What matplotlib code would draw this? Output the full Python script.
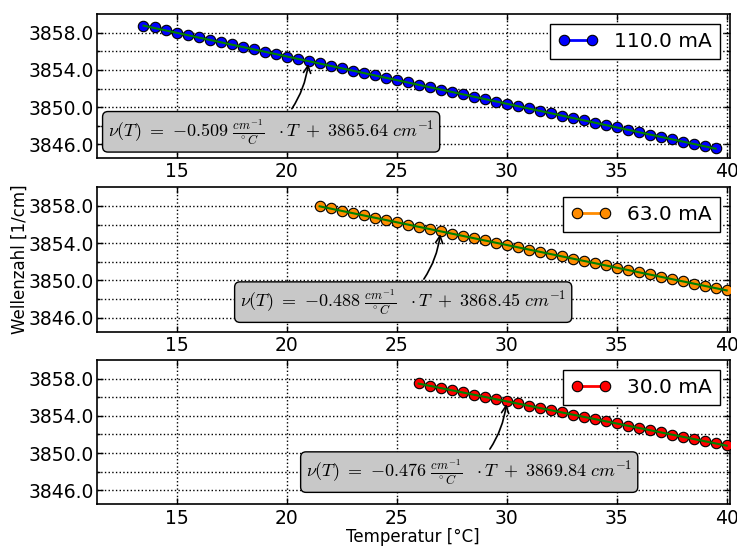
import numpy as np
import matplotlib
matplotlib.use("Agg")
import matplotlib.pyplot as plt
from matplotlib.ticker import FixedLocator, FormatStrFormatter

plt.rcParams['mathtext.fontset'] = 'cm'
plt.rcParams['font.family'] = ['DejaVu Sans']

# ---- data ----
temp_110 = [13.5, 14.0, 14.5, 15.0, 15.5, 16.0, 16.5, 17.0, 17.5, 18.0, 18.5, 19.0, 19.5,
            20.0, 20.5, 21.0, 21.5, 22.0, 22.5, 23.0, 23.5, 24.0, 24.5, 25.0, 25.5, 26.0,
            26.5, 27.0, 27.5, 28.0, 28.5, 29.0, 29.5, 30.0, 30.5, 31.0, 31.5, 32.0, 32.5,
            33.0, 33.5, 34.0, 34.5, 35.0, 35.5, 36.0, 36.5, 37.0, 37.5, 38.0, 38.5, 39.0, 39.5]
wn_110 = [3858.74, 3858.58, 3858.32, 3858.03, 3857.78, 3857.52, 3857.27, 3857.02, 3856.75,
          3856.49, 3856.22, 3855.96, 3855.70, 3855.45, 3855.20, 3854.94, 3854.70, 3854.45,
          3854.20, 3853.94, 3853.68, 3853.43, 3853.17, 3852.91, 3852.66, 3852.40, 3852.15,
          3851.89, 3851.64, 3851.38, 3851.13, 3850.87, 3850.61, 3850.36, 3850.11, 3849.86,
          3849.61, 3849.35, 3849.10, 3848.84, 3848.58, 3848.33, 3848.08, 3847.82, 3847.57,
          3847.32, 3847.06, 3846.81, 3846.55, 3846.29, 3846.03, 3845.77, 3845.60]

temp_63 = [21.5, 22.0, 22.5, 23.0, 23.5, 24.0, 24.5, 25.0, 25.5, 26.0, 26.5, 27.0, 27.5,
           28.0, 28.5, 29.0, 29.5, 30.0, 30.5, 31.0, 31.5, 32.0, 32.5, 33.0, 33.5, 34.0,
           34.5, 35.0, 35.5, 36.0, 36.5, 37.0, 37.5, 38.0, 38.5, 39.0, 39.5, 40.0]
wn_63 = [3857.98, 3857.76, 3857.50, 3857.26, 3856.99, 3856.74, 3856.49, 3856.24, 3856.00,
         3855.76, 3855.52, 3855.27, 3855.03, 3854.78, 3854.53, 3854.29, 3854.06, 3853.82,
         3853.57, 3853.32, 3853.07, 3852.82, 3852.58, 3852.34, 3852.10, 3851.86, 3851.61,
         3851.37, 3851.13, 3850.88, 3850.64, 3850.39, 3850.15, 3849.91, 3849.66, 3849.42,
         3849.18, 3848.96]

temp_30 = [26.0, 26.5, 27.0, 27.5, 28.0, 28.5, 29.0, 29.5, 30.0, 30.5, 31.0, 31.5, 32.0,
           32.5, 33.0, 33.5, 34.0, 34.5, 35.0, 35.5, 36.0, 36.5, 37.0, 37.5, 38.0, 38.5,
           39.0, 39.5, 40.0]
wn_30 = [3857.48, 3857.24, 3857.00, 3856.76, 3856.52, 3856.28, 3856.04, 3855.80, 3855.57,
         3855.33, 3855.08, 3854.85, 3854.61, 3854.37, 3854.13, 3853.89, 3853.66, 3853.42,
         3853.18, 3852.94, 3852.70, 3852.47, 3852.23, 3851.99, 3851.75, 3851.51, 3851.28,
         3851.04, 3850.82]

currents = ["110.0 mA", "63.0 mA", "30.0 mA"]
slopes = [-0.509, -0.488, -0.476]
intercepts = [3865.64, 3868.45, 3869.84]
arrow_temps = [21.0, 27.0, 30.0]
colors = ["#0000ff", "#ff8c00", "#ff0000"]

x_ticks = [15, 20, 25, 30, 35, 40]
y_major = [3846, 3850, 3854, 3858]
y_minor = [3848, 3852, 3856]

temps = [temp_110, temp_63, temp_30]
wns = [wn_110, wn_63, wn_30]

# ---- figure ----
fig = plt.figure(figsize=(7.37, 5.47), dpi=100)
rects = [(0.132, 0.7106, 0.8585, 0.2634),
         (0.132, 0.3936, 0.8585, 0.2640),
         (0.132, 0.0780, 0.8585, 0.2639)]
axes = [fig.add_axes(r) for r in rects]

for i, ax in enumerate(axes):
    t = np.array(temps[i])
    w = np.array(wns[i])
    ax.plot(t, w, '-o', color=colors[i], lw=2, ms=7.5, mec='black', mew=0.8,
            label=currents[i], zorder=3)
    tf = np.array([t.min(), t.max()])
    ax.plot(tf, slopes[i] * tf + intercepts[i], '-', color='#008000', lw=1.5, zorder=4)

    ax.set_xlim(11.4, 40.15)
    ax.set_ylim(3844.5, 3860.0)
    ax.xaxis.set_major_locator(FixedLocator(x_ticks))
    ax.yaxis.set_major_locator(FixedLocator(y_major))
    ax.yaxis.set_minor_locator(FixedLocator(y_minor))
    ax.yaxis.set_major_formatter(FormatStrFormatter('%.1f'))
    ax.grid(True, which='both', linestyle=':', color='black', lw=1.0)
    ax.set_axisbelow(True)
    ax.tick_params(which='both', direction='in', top=True, right=True, labelsize=13.5,
                   length=4, width=1)
    ax.tick_params(axis='x', pad=3)
    ax.tick_params(axis='y', pad=2.5)
    ax.tick_params(which='minor', length=2)
    for s in ax.spines.values():
        s.set_linewidth(1.2)

    leg = ax.legend(loc='upper right', fontsize=14.5, numpoints=2, handlelength=2.0,
                    fancybox=False, framealpha=1, borderaxespad=0.5)
    leg.get_frame().set_edgecolor('black')
    leg.get_frame().set_linewidth(1.0)

    xa = arrow_temps[i]
    ya = slopes[i] * xa + intercepts[i]
    txt = (r'$\nu(T)\ =\ {%.3f}\ \frac{cm^{-1}}{^\circ C}\ \ \cdot T\ +\ %.2f\ cm^{-1}$'
           % (slopes[i], intercepts[i]))
    ax.annotate(txt, xy=(xa, ya), xytext=(xa - 1.7, ya - 7.6),
                ha='center', va='center', fontsize=13, zorder=6,
                bbox=dict(boxstyle='round,pad=0.3', fc='#c8c8c8', ec='black', lw=1.0),
                arrowprops=dict(arrowstyle='->', color='black', lw=1.2,
                                connectionstyle='arc3,rad=0.2'))

fig.text(0.56, 0.019, 'Temperatur [°C]', ha='center', va='center', fontsize=12)
fig.text(0.027, 0.5256, 'Wellenzahl [1/cm]', rotation=90, ha='center', va='center',
         fontsize=12)

fig.savefig('out.png', dpi=100)
